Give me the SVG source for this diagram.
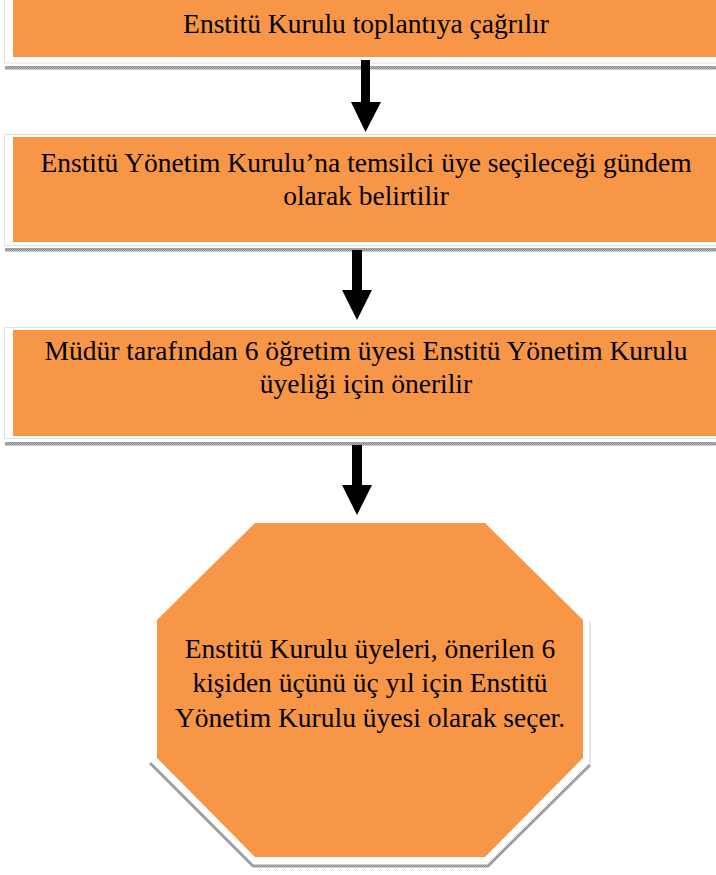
<svg xmlns="http://www.w3.org/2000/svg" width="716" height="875" viewBox="0 0 716 875">
  <defs>
    <pattern id="hatch" width="2" height="2" patternUnits="userSpaceOnUse">
      <rect width="2" height="2" fill="#b4b4b4"/>
      <rect width="1" height="1" fill="#8c8c8c"/>
      <rect x="1" y="1" width="1" height="1" fill="#8c8c8c"/>
    </pattern>
  </defs>
  <style>
    .frame { fill: #ffffff; stroke: #e2e2e2; stroke-width: 1; }
    .box { fill: #f79646; }
    .shadow { fill: url(#hatch); }
    .lbl { font-family: "Liberation Serif", "Times New Roman", serif; font-size: 27.5px; fill: #000000; text-anchor: middle; }
    .arrow { fill: #000000; }
    .oshadow { fill: none; stroke: url(#hatch); stroke-width: 3; }
  </style>
  <rect width="716" height="875" fill="#ffffff"/>

  <g id="node1">
    <rect class="shadow" x="5" y="66" width="720" height="3.5"/>
    <rect class="frame" x="4.5" y="-5" width="730" height="68"/>
    <rect class="box" x="13" y="-5" width="706" height="62"/>
    <text class="lbl" x="366" y="33">Enstitü Kurulu toplantıya çağrılır</text>
  </g>

  <g id="node2">
    <rect class="shadow" x="5" y="248" width="720" height="3.5"/>
    <rect class="frame" x="4.5" y="134.5" width="730" height="111"/>
    <rect class="box" x="13" y="137" width="706" height="105"/>
    <text class="lbl" x="366" y="172">Enstitü Yönetim Kurulu’na temsilci üye seçileceği gündem</text>
    <text class="lbl" x="366" y="205">olarak belirtilir</text>
  </g>

  <g id="node3">
    <rect class="shadow" x="5" y="442" width="720" height="3.5"/>
    <rect class="frame" x="4.5" y="327.5" width="730" height="111"/>
    <rect class="box" x="13" y="330" width="706" height="106"/>
    <text class="lbl" x="366" y="360">Müdür tarafından 6 öğretim üyesi Enstitü Yönetim Kurulu</text>
    <text class="lbl" x="366" y="393">üyeliği için önerilir</text>
  </g>

  <g id="node4">
    <path class="oshadow" d="M150,763 L253,866 L488,866 L590,765"/>
    <path d="M590,765 L590,622" fill="none" stroke="#dcdcdc" stroke-width="1.5"/>
    <polygon class="box" points="255,523 485,523 583,620 583,758 485,857 255,857 157,758 157,620"/>
    <text class="lbl" x="370" y="658">Enstitü Kurulu üyeleri, önerilen 6</text>
    <text class="lbl" x="370" y="692">kişiden üçünü üç yıl için Enstitü</text>
    <text class="lbl" x="370" y="727">Yönetim Kurulu üyesi olarak seçer.</text>
  </g>

  <g id="connectors">
    <polygon class="arrow" points="361,60 370,60 370,102 381,102 365.5,132 351,102 361,102"/>
    <polygon class="arrow" points="352,250 362,250 362,290 372,290 357,320 342,290 352,290"/>
    <polygon class="arrow" points="352,445 362,445 362,485 372,485 357,515 342,485 352,485"/>
  </g>
</svg>
